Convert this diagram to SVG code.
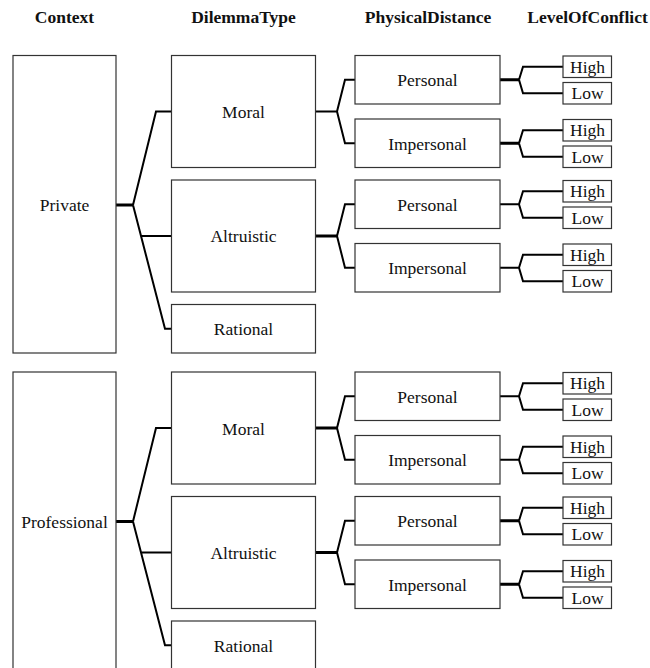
<svg xmlns="http://www.w3.org/2000/svg" width="650" height="668" viewBox="0 0 650 668">
  <style>
    .box { fill: #ffffff; stroke: #333333; stroke-width: 1.2; }
    .lbl { font-family: "Liberation Serif", "Times New Roman", serif; font-size: 17.5px; fill: #111111; text-anchor: middle; }
    .hdr { font-family: "Liberation Serif", "Times New Roman", serif; font-size: 17.5px; font-weight: bold; fill: #111111; text-anchor: middle; }
    .con { fill: none; stroke: #000000; stroke-width: 2; stroke-linejoin: miter; }
    .stem { fill: none; stroke: #000000; stroke-width: 3; }
  </style>

  <!-- column headers -->
  <g id="headers">
    <text class="hdr" x="64.5" y="23">Context</text>
    <text class="hdr" x="243.5" y="23">DilemmaType</text>
    <text class="hdr" x="428" y="23">PhysicalDistance</text>
    <text class="hdr" x="587.5" y="23">LevelOfConflict</text>
  </g>

  <!-- connectors -->
  <g id="connectors">
    <!-- Private -> dilemma types -->
    <path class="stem" d="M116,205 H133"/>
    <path class="con" d="M133,205 L156,111.5 H171.5 M133,205 L165,328.75 H171.5 M141.2,236 H171.5"/>
    <!-- Moral / Altruistic (private) -> physical distance -->
    <path class="con" d="M315.5,111.5 H337 M337,111.5 L345,79.75 H355 M337,111.5 L345,143.25 H355"/>
    <path class="stem" d="M315.5,236 H337"/>
    <path class="con" d="M337,236 L345,204.25 H355 M337,236 L345,267.75 H355"/>
    <!-- physical distance (private) -> level of conflict -->
    <path class="stem" d="M500,79.75 H519 M500,143.25 H519"/>
    <path class="con" d="M519,79.75 L523,66.75 H563 M519,79.75 L523,93.25 H563"/>
    <path class="con" d="M519,143.25 L523,130.25 H563 M519,143.25 L523,156.75 H563"/>
    <path class="con" d="M500,204.25 H519 M519,204.25 L523,191.25 H563 M519,204.25 L523,217.75 H563"/>
    <path class="con" d="M500,267.75 H519 M519,267.75 L523,254.75 H563 M519,267.75 L523,281.25 H563"/>

    <!-- Professional -> dilemma types -->
    <path class="stem" d="M116,521.5 H133"/>
    <path class="con" d="M133,521.5 L156,428 H171.5 M133,521.5 L165,645.25 H171.5 M141,552.5 H171.5"/>
    <!-- Moral / Altruistic (professional) -> physical distance -->
    <path class="stem" d="M315.5,428 H337 M315.5,552.5 H337"/>
    <path class="con" d="M337,428 L345,396.25 H355 M337,428 L345,459.75 H355"/>
    <path class="con" d="M337,552.5 L345,520.75 H355 M337,552.5 L345,584.25 H355"/>
    <!-- physical distance (professional) -> level of conflict -->
    <path class="con" d="M500,396.25 H519 M519,396.25 L523,383.25 H563 M519,396.25 L523,409.75 H563"/>
    <path class="con" d="M500,459.75 H519 M519,459.75 L523,446.75 H563 M519,459.75 L523,473.25 H563"/>
    <path class="stem" d="M500,520.75 H519 M500,584.25 H519"/>
    <path class="con" d="M519,520.75 L523,507.75 H563 M519,520.75 L523,534.25 H563"/>
    <path class="con" d="M519,584.25 L523,571.25 H563 M519,584.25 L523,597.75 H563"/>
  </g>

  <!-- Private branch -->
  <g id="private"><rect class="box" x="13" y="55.5" width="103" height="297.5"/><text class="lbl" x="64.5" y="211">Private</text></g>
  <g id="private-moral"><rect class="box" x="171.5" y="55.5" width="144" height="112"/><text class="lbl" x="243.5" y="118">Moral</text></g>
  <g id="private-altruistic"><rect class="box" x="171.5" y="180" width="144" height="112"/><text class="lbl" x="243.5" y="242">Altruistic</text></g>
  <g id="private-rational"><rect class="box" x="171.5" y="304.5" width="144" height="48.5"/><text class="lbl" x="243.5" y="335">Rational</text></g>

  <g id="private-moral-personal"><rect class="box" x="355" y="55.5" width="145" height="48.5"/><text class="lbl" x="427.5" y="86">Personal</text></g>
  <g id="private-moral-impersonal"><rect class="box" x="355" y="119" width="145" height="48.5"/><text class="lbl" x="427.5" y="149.5">Impersonal</text></g>
  <g id="private-altruistic-personal"><rect class="box" x="355" y="180" width="145" height="48.5"/><text class="lbl" x="427.5" y="210.5">Personal</text></g>
  <g id="private-altruistic-impersonal"><rect class="box" x="355" y="243.5" width="145" height="48.5"/><text class="lbl" x="427.5" y="274">Impersonal</text></g>

  <g id="pmp-high"><rect class="box" x="563" y="56" width="48.5" height="21.5"/><text class="lbl" x="587.5" y="72.75">High</text></g>
  <g id="pmp-low"><rect class="box" x="563" y="82.5" width="48.5" height="21.5"/><text class="lbl" x="587.5" y="99.25">Low</text></g>
  <g id="pmi-high"><rect class="box" x="563" y="119.5" width="48.5" height="21.5"/><text class="lbl" x="587.5" y="136.25">High</text></g>
  <g id="pmi-low"><rect class="box" x="563" y="146" width="48.5" height="21.5"/><text class="lbl" x="587.5" y="162.75">Low</text></g>
  <g id="pap-high"><rect class="box" x="563" y="180.5" width="48.5" height="21.5"/><text class="lbl" x="587.5" y="197.25">High</text></g>
  <g id="pap-low"><rect class="box" x="563" y="207" width="48.5" height="21.5"/><text class="lbl" x="587.5" y="223.75">Low</text></g>
  <g id="pai-high"><rect class="box" x="563" y="244" width="48.5" height="21.5"/><text class="lbl" x="587.5" y="260.75">High</text></g>
  <g id="pai-low"><rect class="box" x="563" y="270.5" width="48.5" height="21.5"/><text class="lbl" x="587.5" y="287.25">Low</text></g>

  <!-- Professional branch -->
  <g id="professional"><rect class="box" x="13" y="372" width="103" height="297.5"/><text class="lbl" x="64.5" y="527.5">Professional</text></g>
  <g id="professional-moral"><rect class="box" x="171.5" y="372" width="144" height="112"/><text class="lbl" x="243.5" y="434.5">Moral</text></g>
  <g id="professional-altruistic"><rect class="box" x="171.5" y="496.5" width="144" height="112"/><text class="lbl" x="243.5" y="558.5">Altruistic</text></g>
  <g id="professional-rational"><rect class="box" x="171.5" y="621" width="144" height="48.5"/><text class="lbl" x="243.5" y="651.5">Rational</text></g>

  <g id="professional-moral-personal"><rect class="box" x="355" y="372" width="145" height="48.5"/><text class="lbl" x="427.5" y="402.5">Personal</text></g>
  <g id="professional-moral-impersonal"><rect class="box" x="355" y="435.5" width="145" height="48.5"/><text class="lbl" x="427.5" y="466">Impersonal</text></g>
  <g id="professional-altruistic-personal"><rect class="box" x="355" y="496.5" width="145" height="48.5"/><text class="lbl" x="427.5" y="527">Personal</text></g>
  <g id="professional-altruistic-impersonal"><rect class="box" x="355" y="560" width="145" height="48.5"/><text class="lbl" x="427.5" y="590.5">Impersonal</text></g>

  <g id="fmp-high"><rect class="box" x="563" y="372.5" width="48.5" height="21.5"/><text class="lbl" x="587.5" y="389.25">High</text></g>
  <g id="fmp-low"><rect class="box" x="563" y="399" width="48.5" height="21.5"/><text class="lbl" x="587.5" y="415.75">Low</text></g>
  <g id="fmi-high"><rect class="box" x="563" y="436" width="48.5" height="21.5"/><text class="lbl" x="587.5" y="452.75">High</text></g>
  <g id="fmi-low"><rect class="box" x="563" y="462.5" width="48.5" height="21.5"/><text class="lbl" x="587.5" y="479.25">Low</text></g>
  <g id="fap-high"><rect class="box" x="563" y="497" width="48.5" height="21.5"/><text class="lbl" x="587.5" y="513.75">High</text></g>
  <g id="fap-low"><rect class="box" x="563" y="523.5" width="48.5" height="21.5"/><text class="lbl" x="587.5" y="540.25">Low</text></g>
  <g id="fai-high"><rect class="box" x="563" y="560.5" width="48.5" height="21.5"/><text class="lbl" x="587.5" y="577.25">High</text></g>
  <g id="fai-low"><rect class="box" x="563" y="587" width="48.5" height="21.5"/><text class="lbl" x="587.5" y="603.75">Low</text></g>
</svg>
